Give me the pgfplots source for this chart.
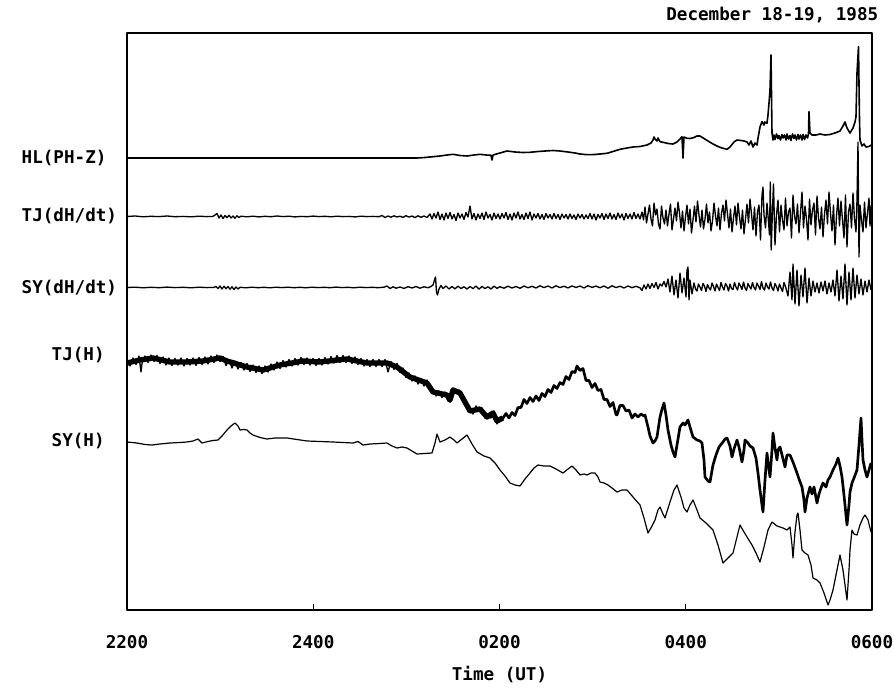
\documentclass[border=0pt]{standalone}
\usepackage{pgfplots}
\pgfplotsset{compat=1.18}
\usepackage{fontspec}
\setmainfont{DejaVu Sans Mono}
\begin{document}
\begin{tikzpicture}
\begin{axis}[
  scale only axis, width=558.75pt, height=432.75pt,
  xmin=127, xmax=872, ymin=33, ymax=610, y dir=reverse,
  clip=false,
  axis line style={line width=1.1pt},
  xtick={127,313.25,499.5,685.75,872}, xticklabel=\empty,
  xtick pos=bottom, major tick length=4.5pt,
  every tick/.style={line width=0.9pt, black},
  ytick=\empty,
  font=\fontsize{13.2}{16}\selectfont\bfseries,
  line join=round,
]
\coordinate (bl) at (axis cs:0,688);
\coordinate (tr) at (axis cs:894,0);
% HL(PH-Z)
\addplot[black, line width=1.2pt] coordinates {
(127,158)(417,158)(425,157.5)(433,156.7)(440,156)(447,155)(453,154.3)(460,155.5)(467,156)(474,155)(480,154.3)(486,155)(491,155.3)(492,160)(493,155)(500,153)(507,151)(515,152)(523,152.5)(530,152.3)(538,151.5)(545,151)(553,150.5)(560,151)(568,152)(575,153)(580,154)(587,154.7)(595,154.5)(600,154)(607,153.3)(613,151.5)(620,149.3)(627,148)(633,147)(640,146.5)(647,145)(651,143)(653,140)(654,137)(655,139)(657,141)(658,138)(660,141.7)(664,142.5)(668,143.5)(673,144)(677,142)(680,139)(682,136.7)(683,158)(684,137)(687,138.3)(690,138.5)(694,137.5)(697,136)(700,136)(704,138.5)(708,141)(713,144)(718,146.5)(722,148)(727,149.3)(730,147)(734,142)(737,140)(741,140.5)(744,141)(747,142)(749,145)(751,141)(753,147)(755,143)(757,145)(758,138.3)(760,127)(762,121.7)(764,125)(765,122)(767,123.3)(768,115)(769,103.3)(770,90)(771,55)
(772,133)(773,140)(774,135)(775,139.5)(776.5,134)(778,138.5)(779,135.5)(780.5,140)(782,134.5)(783,138)(784.5,135)(786,140)(787,134)(788.5,139)(790,135.5)(791,140.5)(792.5,134)(794,138.5)(795,135)(796.5,140)(798,134.5)(799,139)(800.5,135)(802,140)(803,134.5)(804.5,139.5)(806,135)(807.5,138)(808.5,134)(809,111.7)(810,133)(812,135)(816,135)(820,134)(825,135)(830,134.5)(835,133)(840,131)(843,126)(845,122)(847,128)(850,133)(853,128)(855,122)(856,116.7)(857,73)(858.5,46.7)(859.5,120)(860,140)(862,146)(864,144)(866,147)(869,146.5)(871,145)
};
% TJ(dH/dt)
\addplot[black, line width=1pt] coordinates {
(127,216.5)(135,216)(143,216.8)(151,216.3)(159,216.6)(167,216)(175,216.7)(183,216.4)(191,216.8)(199,216.2)(207,216.6)(213,216.4)
(215,215)(217,213.5)(219,218)(221,215)(223,218.5)(225,215.5)(227,217.8)(229,215.2)(231,218)(233,216)(235,218.2)(237,215.8)(239,217.5)(241,216.2)
(247,216.8)(253,216.2)(259,216.9)(265,216.3)(271,216.7)(277,216)(283,216.6)(289,216.2)(295,216.9)(301,216.4)(307,216.7)(313,216.1)(319,216.6)(325,216.3)(331,216.8)(337,216.2)(343,216.6)(349,216.4)(355,216.9)(361,216.2)(367,216.6)(373,216.4)(379,216.7)
(382,215.5)(385,217.5)(388,216)(391,217.2)(394,215.8)(397,217)(400,216.2)(403,217.4)(406,215.7)(409,217.1)(412,216)(415,217.6)(418,215.8)(421,217.3)(424,216)(427,217.5)
(430,214)(432,219)(434,213.5)(436,218)(438,212)(440,219.5)(442,214)(444,220)(446,213)(448,218.5)(450,212.5)(452,219)(454,214.5)(456,220.5)(458,213)(460,218)(462,214)(464,219.5)(466,212.5)(468,217)(470,206)(472,219)(474,213.5)(476,220)(478,214)(480,218.5)(482,213)(484,219.5)(486,212)(488,218)(490,214.5)(492,220)(494,213)(496,218.5)(498,214)(500,219)
(502,213.5)(504,218)(506,212.5)(508,219.5)(510,214)(512,220)(514,213)(516,218)(518,212)(520,219)(522,214.5)(524,219.5)(526,213)(528,218.5)(530,212)(532,220)(534,214)(536,218)(538,213.5)(540,219)(542,214.5)(544,219.5)(546,213.5)(548,218)(550,214.5)(552,219)(554,213.5)(556,218.5)(558,214.5)(560,219.5)(562,214)(564,218)(566,214.5)(568,219)(570,214)(572,218.5)(574,215)(576,219.5)(578,214)(580,218)(582,214.5)(584,219)(586,215)(588,218.5)(590,213.5)(592,219)(594,214)(596,220)(598,214.5)(600,218)(602,213.5)(604,219.5)(606,214)(608,218.5)(610,213)(612,219)(614,214.5)(616,219.5)(618,213)(620,218)(622,214)(624,220)(626,213.5)(628,218.5)(630,214)(632,219)(634,212.5)(636,218.5)(638,214)(640,219)
(642,212)(643.5,220)(645,207)(646.5,223)(648,214)(649.5,205)(651,219)(652.5,226)(654,203)(655.5,215)(657,209)(658.5,224)(660,229)(661.5,206)(663,218)(664.5,224)(666,210)
(667.5,226)(669,214)(670.5,204)(672,230)(673.5,219)(675,208)(676.5,221)(678,202)(679.5,213)(681,228)(682.5,211)(684,231)(685.5,217)(687,205)(688.5,224)(690,209)(691.5,233)(693,220)(694.5,206)(696,222)(697.5,201)(699,215)(700.5,227)(702,210)(703.5,229)(705,219)(706.5,204)(708,223)(709.5,212)(711,231)(712.5,221)(714,203)(715.5,216)(717,226)(718.5,208)(720,230)(721.5,213)(723,205)(724.5,221)(726,200)(727.5,214)(729,228)(730.5,209)(732,232)(733.5,218)(735,206)(736.5,225)(738,203)(739.5,217)(741,229)(742.5,210)(744,234)(745.5,219)(747,204)(748.5,223)(750,199)(751.5,214)(753,230)(754.5,207)(756,236)
(757.5,212)(759,205)(760.5,240)(762,195)(763,187)(764,215)(765.5,228)(767,203)(768.5,222)(769.5,235)(770.3,182)(771.2,250)(772.5,210)(773.5,184)(775,245)(776.5,215)(778,200)(779.5,232)
(781,205)(782.5,220)(784,230)(785.5,198)(787,226)(788.5,212)(790,208)(791.5,238)(793,195)(794.5,216)(796,224)(797.5,204)(799,233)(800.5,213)(802,192)(803.5,228)(805,206)(806.5,219)(808,240)(809.5,199)(811,225)(812.5,210)(814,203)(815.5,235)(817,196)(818.5,218)(820,229)(821.5,207)(823,237)(824.5,214)(826,200)(827.5,224)(829,192)(830.5,213)(832,231)(833.5,205)(835,245)(836.5,216)(838,198)(839.5,226)(841,201)(842.5,220)(844,238)(845.5,195)(847,247)(848.5,212)(850,204)(851.5,228)(853,193)(854.5,219)(856,232)
(857,200)(858,142)(859,257)(860,205)(861.5,220)(863,232)(864.5,202)(866,228)(867.5,213)(869,198)(870,226)(871,205)
};
% SY(dH/dt)
\addplot[black, line width=1pt] coordinates {
(127,287.5)(135,287.2)(143,287.8)(151,287.3)(159,287.7)(167,287.1)(175,287.6)(183,287.3)(191,287.8)(199,287.2)(207,287.6)(214,287.4)
(216,286.5)(218,288.5)(220,286)(222,289)(224,286.2)(226,288.7)(228,286.5)(230,289.2)(232,286.8)(234,289.5)(236,287)(238,289)(240,287.3)
(246,287.8)(252,287.2)(258,287.7)(264,287.3)(270,287.8)(276,287.2)(282,287.6)(288,287.2)(294,287.7)(300,287.3)(306,287.8)(312,287.2)(318,287.6)(324,287.3)(330,287.7)(336,287.1)(342,287.6)(348,287.3)(354,287.8)(360,287.2)(366,287.6)(372,287.3)(378,287.7)(384,287.2)
(387,286)(390,288.5)(393,286.8)(396,288.2)(400,287)(404,288.4)(408,286.7)(412,288)(416,286.5)(420,288.2)(424,286.8)(428,287.8)(431,286.5)
(433,285)(434.5,280)(435.5,277)(436.5,292)(437.5,295)(439,289)(441,285.5)(443,288.5)(446,286)(449,289)(452,286.5)(455,288.8)(458,286.2)(461,288.5)(464,286.8)(467,289)(470,286.5)(473,288.6)(476,286)(479,289.2)(482,286.4)(485,288.5)(488,286.8)(491,289)(494,286.2)(497,288.3)(500,286.7)
(504,288.2)(508,286.2)(512,288)(516,286.5)(520,288.3)(524,286)(528,287.8)(532,286.3)(536,288)(540,285.8)(544,287.6)(548,286)(552,288)(556,285.8)(560,287.6)(564,286.2)(568,287.9)(572,285.9)(576,287.5)(580,286)(584,288)(588,285.7)(592,287.4)(596,286.1)(600,287.8)(604,286)(608,288.2)(612,285.8)(616,287.6)(620,286.2)(624,288)(628,286)(632,287.7)(636,286.3)(640,287.8)
(642,290.5)(644,285)(646,289)(648,284)(650,288.5)(652,283.5)(654,287.5)(656,282.5)(658,289)(660,284)(662,286)(664,281.5)(666,287)
(668,279)(670,292)(672,276)(674,295)(676,280)(678,298)(680,273)(682,293)(684,278)(686,297)(687,270)(688,267)(689,300)(690,280)(692,294)
(694,283)(695.5,289)(697,291)(698.5,284)(700,287)(701.5,290.5)(703,283.5)(704.5,286)(706,291.5)(707.5,284.5)(709,288)(710.5,290)(712,283)(713.5,286.5)(715,291)(716.5,284)(718,287.5)(719.5,290.5)(721,282.5)(722.5,287)(724,290)(725.5,283.5)(727,286)(728.5,291)(730,284)(731.5,288.5)(733,289.5)(734.5,282.5)(736,287)(737.5,290)(739,283)(740.5,286)(742,289.5)(743.5,282)(745,288)(746.5,290.5)(748,283.5)(749.5,286.5)(751,289)(752.5,282.5)(754,287.5)(755.5,290)(757,283)(758.5,286)(760,289.5)(761.5,281.5)(763,288)(764.5,290)(766,283)(767.5,287)(769,289)(770.5,282)(772,288)(773.5,290.5)(775,283.5)(776.5,286.5)(778,291)(779.5,284)(781,288)(782.5,291.5)(784,282.5)(785.5,286.5)
(788,296)(790,272)(792,300)(793,264)(795,304)(797,270)(799,306)(801,275)(803,297)(805,268)(807,303)(809,278)(811,296)(813,281)
(815,292)(817,283)(819,293)(821,282)(823,291)(825,281)(827,294)(829,283)(831,292)(833,280)
(835,296)(837,270)(839,301)(841,276)(843,299)(845,264)(847,305)(849,272)(851,300)(853,268)(855,298)(857,275)
(859,294)(861,279)(863,295)(865,281)(867,292)(869,280)(871,290)
};
% TJ(H) first part: centre line of the noisy band
\addplot[black, line width=4pt] coordinates {
(127,363)(140,360)(153,358)(170,362)(187,362)(203,361)(220,358)(227,361)(247,367)(263,370)(280,365)(303,361)(320,362)(347,359)(367,363)(387,363)(397,367)(410,377)(427,383)(433,392)(447,395)(450,400)(453,390)(460,393)(470,411)(480,409)(487,417)(493,413)(497,421)(503,418)
};
% TJ(H) first part: noise
\addplot[black, line width=1pt] coordinates {
(127,359.5)(130,366)(133,358)(136,364.5)(139,356)(141,372)(142,363.5)(145,356)(148,362.5)(151,355)(154,361.5)(157,355.5)(160,363.5)(163,357)(166,365)(169,358)(172,365.5)(175,358.5)(178,365)(181,358)(184,366)(187,358.5)(190,365)(193,358)(196,365.5)(199,357.5)(202,364.5)(205,357)(208,364)(211,356)(214,362.5)(217,355)(220,361.5)(223,356.5)(226,365.5)(229,360)(232,368)(235,361)(238,369)(241,362.5)(244,370)(247,363.5)(250,371.5)(253,365)(256,372.5)(259,366)(262,373.5)(265,366)(268,372)(271,364)(274,370)(277,362)(280,368.5)(283,360.5)(286,367)(289,359.5)(292,366)(295,358.5)(298,365)(301,357.5)(304,364.5)(307,358)(310,365)(313,358.5)(316,365.5)(319,358.5)(322,365)(325,357.5)(328,364)(331,356.5)(334,363)(337,355.5)(340,362.5)(343,355.5)(346,362.5)(349,356)(352,363.5)(355,357)(358,364.5)(361,358.5)(364,366)(367,359.5)(370,366.5)(373,359.5)(376,366.5)(379,359.5)(382,366.5)(385,359.5)(388,372)(391,361.5)(394,369.5)(397,363.5)(400,372.5)(403,368)(406,377.5)(409,373)(412,381)(415,376)(418,384)(421,378.5)(424,386)(427,380)(430,390)(433,389)(436,396)(439,391)(442,397.5)(445,392)(448,401)(450,402)(452,392)(453,388)(456,393)(459,390)(462,400)(465,400)(468,411)(470,409)(473,414)(476,406)(479,411)(482,408)(485,418)(488,415)(491,418)(494,411)(497,424)(500,417)(503,419.5)
};
% TJ(H) second part
\addplot[black, line width=2pt] coordinates {
(500,418)(503,418)(506,413.5)(509,418)(512,412.5)(515,415.5)(518,407.5)(521,407.5)(524,399.5)(527,403.5)(530,397.5)(533,401.5)(536,396)(539,400.5)(542,393.5)(545,396.5)(548,389.5)(551,392.5)(554,385.5)(557,388.5)(560,382.5)(563,384.5)(566,376.5)(569,379.5)(572,371.5)(575,372.5)(577,366)(580,370.5)(583,368.5)(586,380.5)(589,380.5)(592,387.5)(595,383.5)(598,390.5)(601,389.5)(604,399.5)(607,399.5)(610,406.5)(613,402.5)(616,414.5)(617,415)(620,405.5)(623,405.5)(626,411)(629,410)(632,418)(635,414)(638,417)(641,414)(644,416)(645,415)(648,427)(650,436)(653,443)(655,441)(657,437)(660,417)(662,409)(664,403)(666,415)(668,430)(671,445)(673,452)(675,457)(677,445)(680,427)(683,423)(685,425)(688,420)(690,427)(693,437)(697,440)(700,441)(702,443)(704,460)(705,477)(708,481)(710,482)(713,465)(716,455)(719,447)(723,442)(725,439)(727,438)(730,446)(732,457)(734,449)(737,440)(739,447)(742,462)(744,450)(745,440)(748,443)(750,446)(753,448)(756,458)(758,473)(760,490)(762,505)(763,512)(765,480)(767,453)(768,462)(770,477)(772,450)(773,433)(775,448)(777,460)(778,450)(780,447)(782,455)(785,467)(787,455)(790,455)(793,462)(797,473)(799,479)(802,487)(804,500)(805,512)(807,498)(810,487)(812,494)(814,487)(817,503)(819,494)(821,488)(823,483)(826,487)(828,480)(830,477)(833,470)(836,464)(838,458)(840,466)(842,477)(844,495)(846,515)(847,525)(849,505)(850,492)(852,483)(854,478)(857,470)(859,445)(861,418)(862,440)(863,460)(865,470)(867,477)(869,470)(871,463)
};
% SY(H)
\addplot[black, line width=0.9pt] coordinates {
(127,442)(137,443)(145,444.5)(152,445)(160,444)(170,443)(180,442.5)(187,442)(193,441)(198,439)(200,441)(202,443)(208,441.5)(213,440.5)(218,440)(222,436)(227,430)(231,426)(235,423)(238,426)(240,430)(244,429.5)(247,430)(250,433)(253,435)(260,437.5)(267,439)(275,438)(287,438)(297,439.5)(307,441)(320,441.5)(333,442)(343,442.5)(353,443)(358,441.5)(363,445)(370,444)(380,443.5)(387,443)(392,446)(397,448)(402,447)(407,448)(412,451)(417,454)(425,453.5)(432,453)(435,443)(437,434)(440,442)(445,440)(450,437)(454,440)(457,443)(462,439)(467,435)(472,444)(477,452)(484,456)(490,458)(495,463)(500,470)(505,476)(510,483)(515,485)(520,486)(525,479)(530,473)(534,468)(538,465)(544,466)(550,466)(556,469)(563,473)(568,469)(572,466)(576,470)(580,475)(584,474)(587,475)(591,473)(595,473)(598,477)(600,482)(604,483)(608,485)(612,488)(617,492)(622,490)(627,490)(633,497)(640,505)(644,518)(648,533)(652,526)(655,520)(658,510)(660,507)(663,514)(665,518)(670,502)(674,490)(677,485)(681,497)(684,508)(687,512)(690,505)(693,500)(697,510)(700,518)(706,523)(713,530)(718,545)(723,563)(728,558)(733,553)(737,537)(740,525)(744,532)(747,537)(752,545)(756,553)(760,562)(764,547)(768,530)(772,522)(777,526)(783,528)(787,530)(790,527)(792,545)(793,558)(795,532)(797,515)(798,513)(800,530)(802,550)(805,553)(808,555)(811,565)(813,578)(817,580)(820,583)(824,593)(828,605)(830,600)(833,590)(836,575)(840,555)(843,570)(845,585)(847,600)(849,570)(850,550)(852,530)(854,534)(857,535)(860,525)(863,518)(865,515)(868,520)(871,532)
};
% labels
\node[anchor=west] at (axis cs:17,158) {HL(PH-Z)};
\node[anchor=west] at (axis cs:17,216) {TJ(dH/dt)};
\node[anchor=west] at (axis cs:17,288) {SY(dH/dt)};
\node[anchor=west] at (axis cs:47,355) {TJ(H)};
\node[anchor=west] at (axis cs:47,441) {SY(H)};
\node[anchor=east] at (axis cs:883,15) {December 18-19, 1985};
\node at (axis cs:127,642) {2200};
\node at (axis cs:313.25,642) {2400};
\node at (axis cs:499.5,642) {0200};
\node at (axis cs:685.75,642) {0400};
\node at (axis cs:872,642) {0600};
\node at (axis cs:499.5,675) {Time (UT)};
\end{axis}
\pgfresetboundingbox
\path[use as bounding box] (bl) rectangle (tr);
\end{tikzpicture}
\end{document}
